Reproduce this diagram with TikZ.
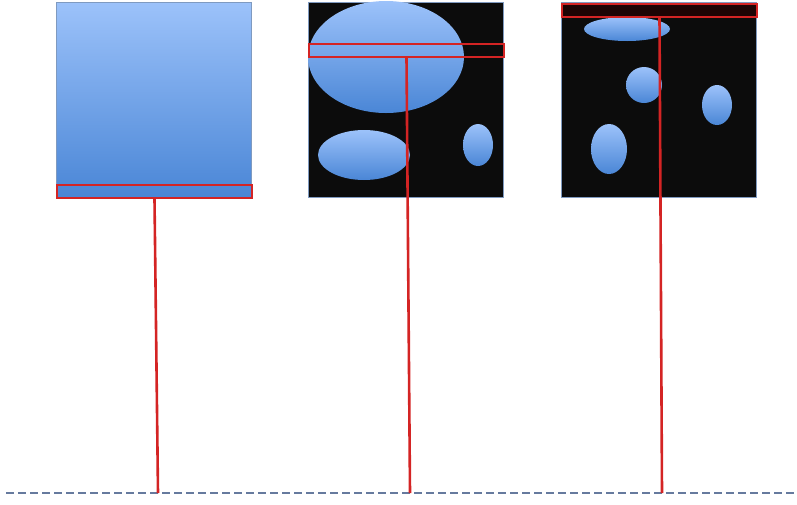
\documentclass[tikz,border=0pt]{standalone}
\usepackage{tikz}

\definecolor{blobtop}{HTML}{9CC2FA}
\definecolor{blobbot}{HTML}{4A86D6}
\definecolor{probered}{HTML}{D42424}
\definecolor{framegrey}{HTML}{7F9AC0}
\definecolor{basegrey}{HTML}{667A9E}

\tikzset{
  panel/.style = {draw=framegrey, line width=0.6pt, inner sep=0pt, anchor=north west,
                  minimum width=195pt, minimum height=195pt},
  dark/.style  = {panel, fill={rgb,255:red,12;green,12;blue,12}},
  strip/.style = {draw=probered, line width=2pt, inner sep=0pt, anchor=north west,
                  minimum width=195pt, minimum height=13pt},
  blob/.style  = {top color=blobtop, bottom color=blobbot, draw=none},
  probe/.style = {draw=probered, line width=2.6pt}
}

\begin{document}
\begin{tikzpicture}[x=1pt, y=-1pt]
  \useasboundingbox (0,0) rectangle (797,504);

  % panels
  \node[panel, top color=blobtop, bottom color=blobbot] (p1) at (56,2) {};
  \node[dark] (p2) at (308,2) {};
  \node[dark] (p3) at (561,2) {};

  % grains in the second panel
  \shade[blob] (386,57) ellipse [x radius=78, y radius=56];
  \shade[blob] (364,155) ellipse [x radius=46, y radius=25];
  \shade[blob] (478,145) ellipse [x radius=15, y radius=21];

  % grains in the third panel
  \shade[blob] (627,29) ellipse [x radius=43, y radius=12];
  \shade[blob] (644,85) ellipse [x radius=18, y radius=18];
  \shade[blob] (717,105) ellipse [x radius=15, y radius=20];
  \shade[blob] (609,149) ellipse [x radius=18, y radius=25];

  % sampled strips
  \node[strip] (s1) at (56,184) {};
  \node[strip] (s2) at (308,43) {};
  \node[strip, fill={rgb,255:red,30;green,4;blue,4}] (s3) at (561,3) {};

  % base line
  \coordinate (b0) at (6,493);
  \coordinate (b4) at (797,493);
  \coordinate (b1) at (158,493);
  \coordinate (b2) at (410,493);
  \coordinate (b3) at (662,493);
  \draw[basegrey, line width=2.6pt, dash pattern=on 8pt off 4pt] (b0) -- (b4);

  % probes
  \draw[probe] (s1.south) -- (b1);
  \draw[probe] (s2.south) -- (b2);
  \draw[probe] (s3.south) -- (b3);
\end{tikzpicture}
\end{document}
